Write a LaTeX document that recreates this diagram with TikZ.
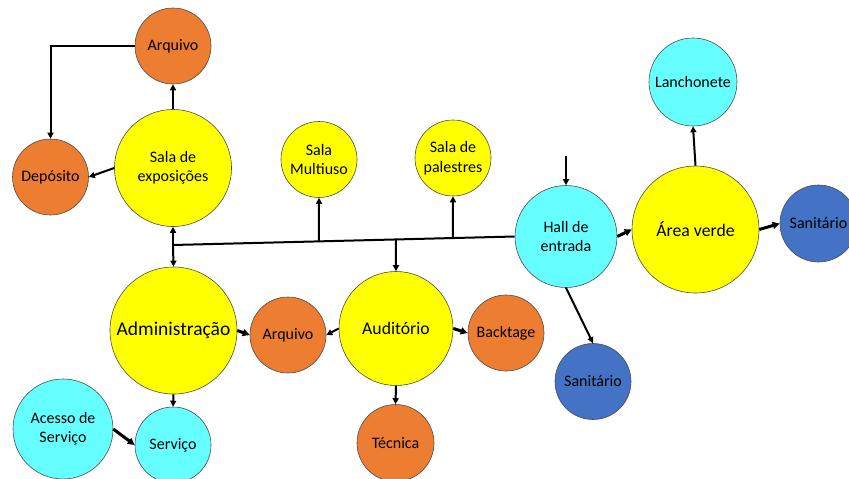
\documentclass[tikz,border=0pt]{standalone}
\usepackage{fontspec}
\setmainfont{Carlito}
\usetikzlibrary{positioning,arrows.meta}
\definecolor{roomorange}{RGB}{237,125,49}
\definecolor{roomyellow}{RGB}{255,255,0}
\definecolor{roomcyan}{RGB}{102,255,255}
\definecolor{roomblue}{RGB}{68,114,196}

\begin{document}
\begin{tikzpicture}[
  x=1pt, y=-1pt,
  font=\fontsize{16}{19.5}\selectfont,
  room/.style={circle, draw=black!70, line width=0.6pt, align=center, inner sep=0pt},
  orangeroom/.style={room, fill=roomorange},
  yellowroom/.style={room, fill=roomyellow},
  cyanroom/.style={room, fill=roomcyan},
  blueroom/.style={room, fill=roomblue},
  bigtext/.style={font=\fontsize{17.7}{21}\selectfont},
  arr/.style={-{Triangle[length=6pt,width=6pt]}, line width=2pt},
  thickarr/.style={-{Triangle[length=7pt,width=7pt]}, line width=3pt}
]
\useasboundingbox (0,0) rectangle (849,479);

\node[orangeroom, minimum size=76]  (arqTop)   at (173,46)    {Arquivo};
\node[orangeroom, minimum size=76]  (deposito) at (50.5,177)  {Depósito};
\node[yellowroom, minimum size=117] (salaExpo) at (173,168)   {Sala de\\exposições};
\node[yellowroom, minimum size=76]  (multiuso) at (319,159.5) {Sala\\Multiuso};
\node[yellowroom, minimum size=76]  (palestra) at (453,158)   {Sala de\\palestres};
\node[cyanroom,   minimum size=102] (hall)     at (566,236.5) {Hall de\\entrada};
\node[yellowroom, bigtext, minimum size=127] (verde) at (695.5,229.5) {Área verde};
\node[cyanroom,   minimum size=88]  (lanche)   at (693,82)    {Lanchonete};
\node[blueroom,   minimum size=77]  (sanitA)   at (818.5,223.5) {Sanitário};
\node[blueroom,   minimum size=76]  (sanitB)   at (593,381.5) {Sanitário};
\node[yellowroom, minimum size=127, font=\fontsize{19.5}{23}\selectfont] (admin) at (173.5,330.5) {Administração};
\node[orangeroom, minimum size=76]  (arqMid)   at (288,335)   {Arquivo};
\node[yellowroom, bigtext, minimum size=114] (auditor) at (396,328.5) {Auditório};
\node[orangeroom, minimum size=76]  (backtage) at (506,333)   {Backtage};
\node[orangeroom, minimum size=77]  (tecnica)  at (395.5,443) {Técnica};
\node[cyanroom,   minimum size=100] (acesso)   at (63,429)    {Acesso de\\Serviço};
\node[cyanroom,   minimum size=76]  (servico)  at (173,445)   {Serviço};

% corredor principal
\coordinate (busW) at (173,245);
\coordinate (entrada) at (566,156);
\draw[line width=2pt] (busW) -- (hall.west)
  coordinate[pos=0.427] (bMulti)
  coordinate[pos=0.652] (bAudit)
  coordinate[pos=0.819] (bPalestra);

\draw[arr] (busW) -- (salaExpo.south);
\draw[arr] (busW) -- (admin.north);
\draw[arr] (bMulti) -- (multiuso.south);
\draw[arr] (bPalestra) -- (palestra.south);
\draw[arr] (bAudit) -- (auditor.north);

\draw[arr] (salaExpo.north) -- (arqTop.south);
\draw[arr] (salaExpo.west) -- (deposito.east);
\draw[arr] (arqTop.west) -| (deposito.north);

\draw[arr] (entrada) -- (hall.north);
\draw[thickarr] (hall.east) -- (verde.west);
\draw[arr] (verde.north) -- (lanche.south);
\draw[thickarr] (verde.east) -- (sanitA.west);
\draw[arr] (hall.south) -- (sanitB.north);

\draw[thickarr] (admin.east) -- (arqMid.west);
\draw[arr] (auditor.west) -- (arqMid.east);
\draw[thickarr] (auditor.east) -- (backtage.west);
\draw[arr] (auditor.south) -- (tecnica.north);
\draw[arr] (admin.south) -- (servico.north);
\draw[thickarr] (acesso.east) -- (servico.west);
\end{tikzpicture}
\end{document}
